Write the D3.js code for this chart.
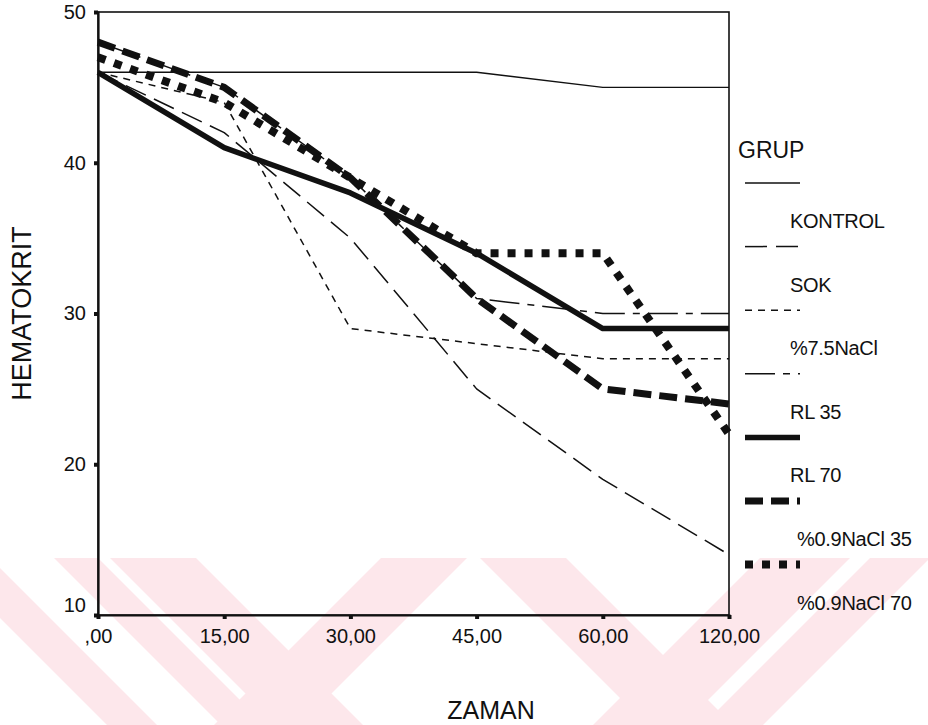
<!DOCTYPE html>
<html>
<head>
<meta charset="utf-8">
<script src="https://cdn.jsdelivr.net/npm/d3@7"></script>
<style>
  body { margin: 0; background: #fff; }
  text { font-family: "Liberation Sans", Arial, sans-serif; fill: #111; }
</style>
</head>
<body>
<div id="chart"></div>
<script>
// hematokrit by time, per group
var zaman = [",00", "15,00", "30,00", "45,00", "60,00", "120,00"];
var yTicks = [10, 20, 30, 40, 50];

var kontrol   = [46, 46, 46, 46, 45, 45];
var sok       = [46, 42, 35, 25, 19, 14];
var nacl75    = [46, 44, 29, 28, 27, 27];
var rl35      = [48, 45, 39, 31, 30, 30];
var rl70      = [46, 41, 38, 34, 29, 29];
var nacl09_35 = [48, 45, 39, 31, 25, 24];
var nacl09_70 = [47, 44, 39, 34, 34, 22];

var gruplar = ["KONTROL", "SOK", "%7.5NaCl", "RL 35", "RL 70", "%0.9NaCl 35", "%0.9NaCl 70"];

var width = 928, height = 725;
var pL = 98, pR = 729, pT = 12, pB = 615;

var svg = d3.select("#chart").append("svg")
	.attr("width", width)
	.attr("height", height);

// faint watermark stripes at the bottom
var wm = svg.append("g").attr("fill", "#fde7eb");
var wmTop = 558, wmH = height - wmTop;
var bands = [
	{x: -60, w: 50, d: 1}, {x: 54, w: 44, d: 1}, {x: 110, w: 86, d: 1},
	{x: 381, w: 86, d: -1}, {x: 480, w: 86, d: 1}, {x: 760, w: 90, d: -1},
	{x: 870, w: 60, d: -1}
];
bands.forEach(function(b) {
	var s = b.d * wmH;
	var pts = [[b.x, wmTop], [b.x + b.w, wmTop], [b.x + b.w + s, height], [b.x + s, height]];
	wm.append("polygon").attr("points", pts.map(function(p){return p.join(",")}).join(" "));
});

var x = d3.scalePoint().domain(zaman).range([pL, pR]);
var y = d3.scaleLinear().domain([10, 50]).range([pB, pT]);

// frame
svg.append("rect")
	.attr("x", pL).attr("y", pT)
	.attr("width", pR - pL).attr("height", pB - pT)
	.attr("fill", "none").attr("stroke", "#111").attr("stroke-width", 1.6);

var yAxis = svg.append("g")
	.attr("transform", "translate(" + pL + ",0)")
	.call(d3.axisLeft(y).tickValues(yTicks).tickFormat(d3.format("d")).tickSize(4).tickPadding(8));
var xAxis = svg.append("g")
	.attr("transform", "translate(0," + pB + ")")
	.call(d3.axisBottom(x).tickSize(4).tickPadding(10));

[yAxis, xAxis].forEach(function(a) {
	a.select(".domain").attr("stroke", "#111").attr("stroke-width", 2.2);
	a.selectAll(".tick line").attr("stroke", "#111").attr("stroke-width", 4);
	a.selectAll(".tick text").style("font-size", "20px").attr("fill", "#111");
});
yAxis.selectAll(".tick text").filter(function(d){return d === 10;}).attr("dy", "-0.2em");

// axis titles
svg.append("text")
	.attr("transform", "translate(31," + ((pT + pB) / 2) + ") rotate(-90)")
	.attr("text-anchor", "middle")
	.style("font-size", "27px")
	.text("HEMATOKRIT");
svg.append("text")
	.attr("x", 491).attr("y", 719)
	.attr("text-anchor", "middle")
	.style("font-size", "25px")
	.text("ZAMAN");

var series = [
	{name: gruplar[0], values: kontrol,   w: 1.4, dash: null},
	{name: gruplar[1], values: sok,       w: 1.5, dash: "22,9"},
	{name: gruplar[2], values: nacl75,    w: 1.5, dash: "7,6"},
	{name: gruplar[3], values: rl35,      w: 1.5, dash: "30,8,7,8"},
	{name: gruplar[4], values: rl70,      w: 5.5, dash: null},
	{name: gruplar[5], values: nacl09_35, w: 7,   dash: "18,8"},
	{name: gruplar[6], values: nacl09_70, w: 8,   dash: "8,9"}
];

var line = d3.line()
	.x(function(d, i){return x(zaman[i]);})
	.y(function(d){return y(d);});

var drawOrder = [4, 5, 6, 0, 1, 2, 3];
drawOrder.forEach(function(k) {
	var s = series[k];
	svg.append("path")
		.datum(s.values)
		.attr("d", line)
		.attr("fill", "none")
		.attr("stroke", "#111")
		.attr("stroke-width", s.w)
		.attr("stroke-linejoin", "round")
		.attr("stroke-dasharray", s.dash);
});

// legend
var lg = svg.append("g");
lg.append("text").attr("x", 738).attr("y", 158).style("font-size", "23px").text("GRUP");
var step = 63.6;
series.forEach(function(s, i) {
	var sy = 183 + i * step;
	lg.append("line")
		.attr("x1", 745).attr("x2", 800)
		.attr("y1", sy).attr("y2", sy)
		.attr("stroke", "#111")
		.attr("stroke-width", s.w)
		.attr("stroke-dasharray", s.dash);
	lg.append("text")
		.attr("x", i >= 5 ? 797 : 790)
		.attr("y", 228 + i * step)
		.style("font-size", "20px")
		.style("letter-spacing", "-0.3px")
		.text(s.name);
});
</script>
</body>
</html>
